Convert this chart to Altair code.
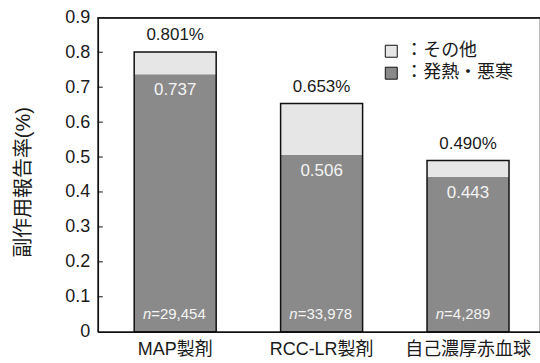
import altair as alt
import pandas as pd

# Adverse reaction report rates (%) by blood product
categories = ["MAP製剤", "RCC-LR製剤", "自己濃厚赤血球"]
fever_chill = [0.737, 0.506, 0.443]
total_rate = [0.801, 0.653, 0.490]
n_counts = ["=29,454", "=33,978", " =4,289"]
y_ticks = [0.1, 0.2, 0.3, 0.4, 0.5, 0.6, 0.7, 0.8]
y_labels = [0, 0.1, 0.2, 0.3, 0.4, 0.5, 0.6, 0.7, 0.8, 0.9]

series_names = ["その他", "発熱・悪寒"]
series_colors = ["#e6e6e6", "#8a8a8a"]

FONT = "Liberation Sans, Noto Sans CJK JP, sans-serif"
W, H = 443, 315

# stacked segments: fever/chill at the bottom, other on top
seg_rows = []
for c, f, t in zip(categories, fever_chill, total_rate):
    seg_rows.append({"cat": c, "series": "発熱・悪寒", "y0": 0.0, "y1": f})
    seg_rows.append({"cat": c, "series": "その他", "y0": f, "y1": t})
seg = pd.DataFrame(seg_rows)

bars = pd.DataFrame({
    "cat": categories,
    "fever": fever_chill,
    "total": total_rate,
    "total_lbl": [f"{v:.3f}%" for v in total_rate],
    "fever_lbl": [f"{v:.3f}" for v in fever_chill],
    "n_lbl": n_counts,
})
ticks = pd.DataFrame({"v": y_ticks})

# shared scales and axes, identical in every layer so they merge cleanly
x_scale = alt.Scale(paddingInner=0.44, paddingOuter=0.23, align=0.54)
x_axis = alt.Axis(
    title=None, labelAngle=0, ticks=False, labelPadding=9,
    labelFontSize=18, labelFont=FONT, labelColor="#1a1a1a",
    domainColor="#111", domainWidth=1.5,
)
y_scale = alt.Scale(domain=[0, 0.9], nice=False, zero=True)
y_axis = alt.Axis(
    values=y_labels,
    labelExpr="datum.value == 0 ? '0' : format(datum.value, '.1f')",
    labelOverlap=False, labelFlush=False, labelBound=False,
    ticks=False, grid=False, labelPadding=8,
    labelFontSize=18, labelFont=FONT, labelColor="#1a1a1a",
    domainColor="#111", domainWidth=1.5,
    title="副作用報告率(%)", titleFont=FONT, titleFontSize=20,
    titleFontWeight="normal", titleColor="#1a1a1a",
    titleBaseline="middle", titleX=-74, titleY=165,
)


def xq():
    return alt.X("cat:N", sort=categories, scale=x_scale, axis=x_axis)


def yq(field):
    return alt.Y(field, scale=y_scale, axis=y_axis)


def yd(value):
    return alt.Y(datum=value, scale=y_scale, axis=y_axis)


segments = alt.Chart(seg).mark_bar(strokeWidth=0).encode(
    x=xq(),
    y=yq("y0:Q"),
    y2="y1:Q",
    color=alt.Color(
        "series:N",
        scale=alt.Scale(domain=series_names, range=series_colors),
        legend=alt.Legend(
            title=None, orient="none", legendX=285, legendY=25,
            symbolType="square", symbolSize=144,
            symbolStrokeColor="#111", symbolStrokeWidth=1,
            symbolOpacity=1,
            labelExpr="'：' + datum.label",
            labelFont=FONT, labelFontSize=18, labelColor="#1a1a1a",
            labelOffset=5, rowPadding=4,
        ),
    ),
)

outline = alt.Chart(bars).mark_bar(
    fillOpacity=0, stroke="#111", strokeWidth=1.5
).encode(x=xq(), y=yq("total:Q"))

# short inward ticks on the value axis
inner_ticks = alt.Chart(ticks).mark_rule(color="#111", strokeWidth=1).encode(
    y=yq("v:Q"), x=alt.value(0), x2=alt.value(5)
)

# top frame line along the upper edge of the plot
top_line = alt.Chart(bars).mark_rule(color="#222", strokeWidth=1.5).encode(
    y=alt.value(0.5), x=alt.value(0), x2=alt.value(W)
)

top_lbl = alt.Chart(bars).mark_text(
    baseline="bottom", dy=-8, fontSize=17, font=FONT, color="#1a1a1a"
).encode(x=xq(), y=yq("total:Q"), text="total_lbl:N")

fever_lbl = alt.Chart(bars).mark_text(
    baseline="top", dy=8, fontSize=17, font=FONT, color="#f4f4f4"
).encode(x=xq(), y=yq("fever:Q"), text="fever_lbl:N")

n_italic = alt.Chart(bars).mark_text(
    baseline="bottom", align="right", dx=-24, dy=-10, fontSize=15,
    font=FONT, fontStyle="italic", color="#f4f4f4"
).encode(x=xq(), y=yd(0), text=alt.value("n"))

n_value = alt.Chart(bars).mark_text(
    baseline="bottom", align="left", dx=-24, dy=-10, fontSize=15,
    font=FONT, color="#f4f4f4"
).encode(x=xq(), y=yd(0), text="n_lbl:N")

chart = alt.layer(
    segments, outline, inner_ticks, top_lbl, fever_lbl, n_italic, n_value, top_line
).properties(
    width=W, height=H,
    padding={"left": 98, "top": 17, "right": 0, "bottom": 31},
    autosize="none", background="white",
).configure_view(strokeWidth=1.2, stroke="#222")

chart.save("out.html", embed_options={"renderer": "svg", "actions": False})
